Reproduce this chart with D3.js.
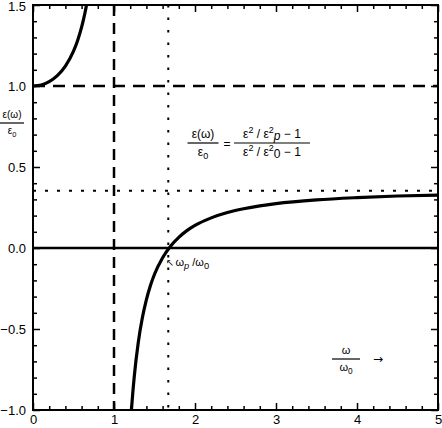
<!DOCTYPE html>
<html>
<head>
<meta charset="utf-8">
<script src="https://cdn.jsdelivr.net/npm/d3@7"></script>
<style>
  body { margin: 0; background: #fff; }
  svg { display: block; font-family: "Liberation Sans", Helvetica, Arial, sans-serif; }
  .arrow { font-family: "DejaVu Sans", sans-serif; }
</style>
</head>
<body>
<svg id="chart" width="442" height="428"></svg>
<script>
// curve below the pole (w < w0)
var lowW = [0, 0.1, 0.2, 0.3, 0.4, 0.5, 0.55, 0.6, 0.63, 0.66, 0.67];
var lowE = [1.0, 1.006, 1.027, 1.064, 1.123, 1.215, 1.28, 1.363, 1.425, 1.498, 1.53];
// curve above the pole
var highW = [1.205, 1.22, 1.25, 1.3, 1.35, 1.4, 1.45, 1.5, 1.6, 1.7, 1.8, 1.9, 2.0, 2.2, 2.4, 2.6, 2.8, 3.0, 3.5, 4.0, 4.5, 5.0];
var highE = [-1.07, -0.968, -0.794, -0.582, -0.431, -0.318, -0.231, -0.162, -0.06, 0.013, 0.066, 0.107, 0.139, 0.186, 0.219, 0.242, 0.26, 0.274, 0.297, 0.311, 0.321, 0.327];
var xTicks = [0, 1, 2, 3, 4, 5];
var yTicks = [-1.0, -0.5, 0.0, 0.5, 1.0, 1.5];
var pole = 1.0;        // w0
var plasma = 1.67;     // wp / w0
var limit = 0.354;     // value for w -> infinity

var svg = d3.select("#chart");
var pL = 33, pR = 438, pT = 5, pB = 410;

var x = d3.scaleLinear().domain([0, 5]).range([pL, pR]);
var y = d3.scaleLinear().domain([-1, 1.5]).range([pB, pT]);

svg.append("clipPath").attr("id", "plotclip")
  .append("rect")
  .attr("x", pL).attr("y", pT)
  .attr("width", pR - pL).attr("height", pB - pT);

var minorX = d3.range(0, 5.001, 0.2).filter(function(d) { return Math.abs(d - Math.round(d)) > 0.01; });
var minorY = d3.range(-1, 1.501, 0.1).filter(function(d) { return Math.abs(d * 2 - Math.round(d * 2)) > 0.01; });

function drawAxis(axis, tx, ty) {
  var g = svg.append("g").attr("transform", "translate(" + tx + "," + ty + ")").call(axis);
  g.select(".domain").remove();
  g.selectAll("line").attr("stroke", "#000").attr("stroke-width", 1.5);
  g.selectAll("text").attr("fill", "#000").style("font-size", "13px");
  return g;
}

// bottom / left with labels
drawAxis(d3.axisBottom(x).tickValues(xTicks).tickSize(-7).tickPadding(5).tickFormat(d3.format("d")), 0, pB);
drawAxis(d3.axisBottom(x).tickValues(minorX).tickSize(-4).tickFormat(""), 0, pB);
var yAxisG = drawAxis(d3.axisLeft(y).tickValues(yTicks).tickSize(-7).tickPadding(7).tickFormat(d3.format(".1f")), pL, 0);
yAxisG.selectAll("text").filter(function(d) { return d === 1.5; }).attr("dy", "0.45em");
drawAxis(d3.axisLeft(y).tickValues(minorY).tickSize(-4).tickFormat(""), pL, 0);
// top / right, no labels
drawAxis(d3.axisTop(x).tickValues(xTicks).tickSize(-7).tickFormat(""), 0, pT);
drawAxis(d3.axisTop(x).tickValues(minorX).tickSize(-4).tickFormat(""), 0, pT);
drawAxis(d3.axisRight(y).tickValues(yTicks).tickSize(-7).tickFormat(""), pR, 0);
drawAxis(d3.axisRight(y).tickValues(minorY).tickSize(-4).tickFormat(""), pR, 0);

var plot = svg.append("g").attr("clip-path", "url(#plotclip)");

// reference lines
plot.append("line")
  .attr("x1", x(pole)).attr("x2", x(pole)).attr("y1", pT).attr("y2", pB)
  .attr("stroke", "#000").attr("stroke-width", 2.5).attr("stroke-dasharray", "11,7");
plot.append("line")
  .attr("x1", pL).attr("x2", pR).attr("y1", y(1)).attr("y2", y(1))
  .attr("stroke", "#000").attr("stroke-width", 2.5).attr("stroke-dasharray", "12,8");
plot.append("line")
  .attr("x1", x(plasma)).attr("x2", x(plasma)).attr("y1", pT).attr("y2", pB)
  .attr("stroke", "#000").attr("stroke-width", 2).attr("stroke-dasharray", "2.5,10");
plot.append("line")
  .attr("x1", pL).attr("x2", pR).attr("y1", y(limit)).attr("y2", y(limit))
  .attr("stroke", "#000").attr("stroke-width", 2).attr("stroke-dasharray", "3,9");
plot.append("line")
  .attr("x1", pL).attr("x2", pR).attr("y1", y(0)).attr("y2", y(0))
  .attr("stroke", "#000").attr("stroke-width", 2.6);

var line = d3.line()
  .x(function(d) { return x(d[0]); })
  .y(function(d) { return y(d[1]); })
  .curve(d3.curveMonotoneX);

plot.append("path")
  .datum(d3.zip(lowW, lowE))
  .attr("d", line)
  .attr("fill", "none").attr("stroke", "#000").attr("stroke-width", 3.2);
plot.append("path")
  .datum(d3.zip(highW, highE))
  .attr("d", line)
  .attr("fill", "none").attr("stroke", "#000").attr("stroke-width", 3.2);

// frame
svg.append("rect")
  .attr("x", pL).attr("y", pT)
  .attr("width", pR - pL).attr("height", pB - pT)
  .attr("fill", "none").attr("stroke", "#000").attr("stroke-width", 2);

// fraction helper
function fraction(cx, cy, num, den, w, size) {
  var g = svg.append("g").attr("transform", "translate(" + cx + "," + cy + ")")
    .style("font-size", size + "px");
  g.append("line").attr("x1", -w / 2).attr("x2", w / 2)
    .attr("stroke", "#000").attr("stroke-width", 1.2);
  var t1 = g.append("text").attr("text-anchor", "middle").attr("y", -5);
  num(t1);
  var t2 = g.append("text").attr("text-anchor", "middle").attr("y", size + 1);
  den(t2);
  return g;
}

function eps0(t) {
  t.append("tspan").text("ε");
  t.append("tspan").attr("dy", 3).style("font-size", "0.75em").text("0");
}

// y axis label
fraction(12, 123, function(t) { t.text("ε(ω)"); }, eps0, 24, 10);

// formula
fraction(203, 143, function(t) { t.text("ε(ω)"); }, eps0, 31, 12);
svg.append("text").attr("x", 227).attr("y", 148).attr("text-anchor", "middle")
  .style("font-size", "12px").text("=");
fraction(272, 143, function(t) {
  t.append("tspan").text("ε");
  t.append("tspan").attr("dy", -5).style("font-size", "0.75em").text("2");
  t.append("tspan").attr("dy", 5).text(" / ε");
  t.append("tspan").attr("dy", -5).style("font-size", "0.75em").text("2");
  t.append("tspan").attr("dy", 7).style("font-style", "italic").text("p");
  t.append("tspan").attr("dy", -2).text(" − 1");
}, function(t) {
  t.append("tspan").text("ε");
  t.append("tspan").attr("dy", -5).style("font-size", "0.75em").text("2");
  t.append("tspan").attr("dy", 5).text(" / ε");
  t.append("tspan").attr("dy", -5).style("font-size", "0.75em").text("2");
  t.append("tspan").attr("dy", 7).text("0");
  t.append("tspan").attr("dy", -2).text(" − 1");
}, 76, 12);

// wp / w0 marker
var lab = svg.append("text").attr("x", 166).attr("y", 266).style("font-size", "11px");
lab.append("tspan").attr("class", "arrow").style("font-size", "10px").text("↖");
lab.append("tspan").attr("dx", 1).text("ω");
lab.append("tspan").attr("dy", 3).style("font-style", "italic").style("font-size", "0.85em").text("p");
lab.append("tspan").attr("dy", -3).text(" /ω");
lab.append("tspan").attr("dy", 3).style("font-size", "0.85em").text("0");

// x axis label
fraction(346, 359, function(t) { t.text("ω"); }, function(t) {
  t.append("tspan").text("ω");
  t.append("tspan").attr("dy", 3).style("font-size", "0.75em").text("0");
}, 28, 11);
svg.append("text").attr("class", "arrow").attr("x", 378).attr("y", 363).attr("text-anchor", "middle")
  .style("font-size", "12px").text("→");
</script>
</body>
</html>
